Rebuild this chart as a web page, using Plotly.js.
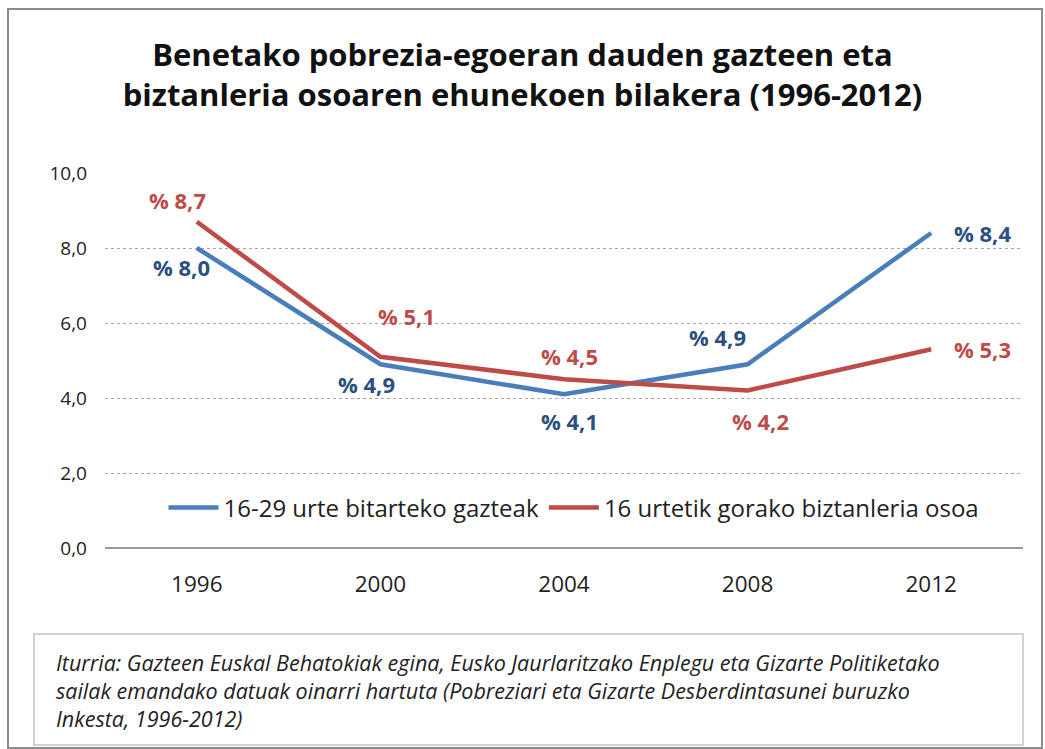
<!DOCTYPE html>
<html>
<head>
<meta charset="utf-8">
<script src="https://cdn.plot.ly/plotly-3.0.1.min.js"></script>
<style>
  html, body { margin: 0; padding: 0; background: #fff; }
  #chart { width: 1045px; height: 749px; }
</style>
</head>
<body>
<div id="chart"></div>
<script>
// ---- data ----
const years = [1996, 2000, 2004, 2008, 2012];
const youthValues = [8.0, 4.9, 4.1, 4.9, 8.4];
const totalValues = [8.7, 5.1, 4.5, 4.2, 5.3];
const youthName = '16-29 urte bitarteko gazteak';
const totalName = '16 urtetik gorako biztanleria osoa';
const yTickValues = [0, 2, 4, 6, 8, 10];
const titleText = 'Benetako pobrezia-egoeran dauden gazteen eta<br>biztanleria osoaren ehunekoen bilakera (1996-2012)';
const sourceText = 'Iturria: Gazteen Euskal Behatokiak egina, Eusko Jaurlaritzako Enplegu eta Gizarte Politiketako<br>sailak emandako datuak oinarri hartuta (Pobreziari eta Gizarte Desberdintasunei buruzko<br>Inkesta, 1996-2012)';

// ---- styles ----
const FONT = "'Open Sans', 'Noto Sans', sans-serif";
const blue = '#4a7ebb';
const blueText = '#2a4f80';
const red = '#be4b48';
// label offsets in pixels [xshift, yshift]
const youthLabelShift = [[-15, -19], [-14, -20], [5, -27], [-30, 27], [51, 0]];
const totalLabelShift = [[-19, 22], [26, 41], [5, 23], [13, -30], [51, 0]];

function fmt(v) { return '% ' + v.toFixed(1).replace('.', ','); }

const traces = [
  { x: years, y: youthValues, name: youthName, type: 'scatter', mode: 'lines',
    line: { color: blue, width: 4.5 }, hoverinfo: 'skip' },
  { x: years, y: totalValues, name: totalName, type: 'scatter', mode: 'lines',
    line: { color: red, width: 4.5 }, hoverinfo: 'skip' }
];

// pixel -> paper helpers (plot area: x 105..1023, y 173..548)
const L = 105, R = 22, T = 173, B = 201, W = 1045 - L - R, H = 749 - T - B;
const px = v => (v - L) / W;
const py = v => 1 - (v - T) / H;

const annotations = [];
years.forEach((yr, i) => {
  annotations.push({ x: yr, y: youthValues[i], xref: 'x', yref: 'y', text: '<b>' + fmt(youthValues[i]) + '</b>',
    showarrow: false, xshift: youthLabelShift[i][0], yshift: youthLabelShift[i][1],
    font: { family: FONT, size: 22, color: blueText } });
  annotations.push({ x: yr, y: totalValues[i], xref: 'x', yref: 'y', text: '<b>' + fmt(totalValues[i]) + '</b>',
    showarrow: false, xshift: totalLabelShift[i][0], yshift: totalLabelShift[i][1],
    font: { family: FONT, size: 22, color: red } });
});
annotations.push({ x: px(54), y: py(646), xref: 'paper', yref: 'paper', xanchor: 'left', yanchor: 'top',
  align: 'left', showarrow: false, text: '<i>' + sourceText + '</i>',
  font: { family: FONT, size: 21.5, color: '#222' } });

const layout = {
  width: 1045, height: 749,
  margin: { l: L, r: R, t: T, b: B },
  paper_bgcolor: '#fff', plot_bgcolor: '#fff',
  separators: ', ',
  font: { family: FONT, color: '#222' },
  title: { text: '<b>' + titleText + '</b>', x: 0.5, xref: 'container', xanchor: 'center',
    y: 1 - 66 / 749, yref: 'container', yanchor: 'middle',
    font: { family: FONT, size: 31, color: '#111' } },
  xaxis: { type: 'linear', range: [1994, 2014], tickvals: years, tickformat: 'd',
    showgrid: false, zeroline: false, showline: false, ticks: '',
    ticklabelstandoff: 20, tickfont: { family: FONT, size: 22.5, color: '#222' }, fixedrange: true },
  yaxis: { range: [0, 10], tickvals: yTickValues, tickformat: '.1f', showgrid: true,
    gridcolor: '#a6a6a6', griddash: 'dot', gridwidth: 1, zeroline: true, zerolinecolor: '#999',
    zerolinewidth: 1.5, showline: false, ticks: '', ticklabelstandoff: 17,
    tickfont: { family: FONT, size: 19, color: '#222' }, fixedrange: true },
  showlegend: true,
  legend: { orientation: 'h', x: px(574), xanchor: 'center', y: py(508), yanchor: 'middle',
    bgcolor: 'rgba(0,0,0,0)', font: { family: FONT, size: 24, color: '#222' },
    itemwidth: 50, tracegroupgap: 0 },
  annotations: annotations,
  shapes: [
    { type: 'rect', xref: 'paper', yref: 'paper', x0: px(8), x1: px(1042), y0: py(748), y1: py(9),
      line: { color: '#8c8c8c', width: 2 }, fillcolor: 'rgba(0,0,0,0)', layer: 'below' },
    { type: 'rect', xref: 'paper', yref: 'paper', x0: px(34), x1: px(1023), y0: py(745), y1: py(634),
      line: { color: '#c4c4c4', width: 1.5 }, fillcolor: 'rgba(0,0,0,0)', layer: 'below' }
  ]
};

Plotly.newPlot('chart', traces, layout, { displayModeBar: false, staticPlot: true });
</script>
</body>
</html>
